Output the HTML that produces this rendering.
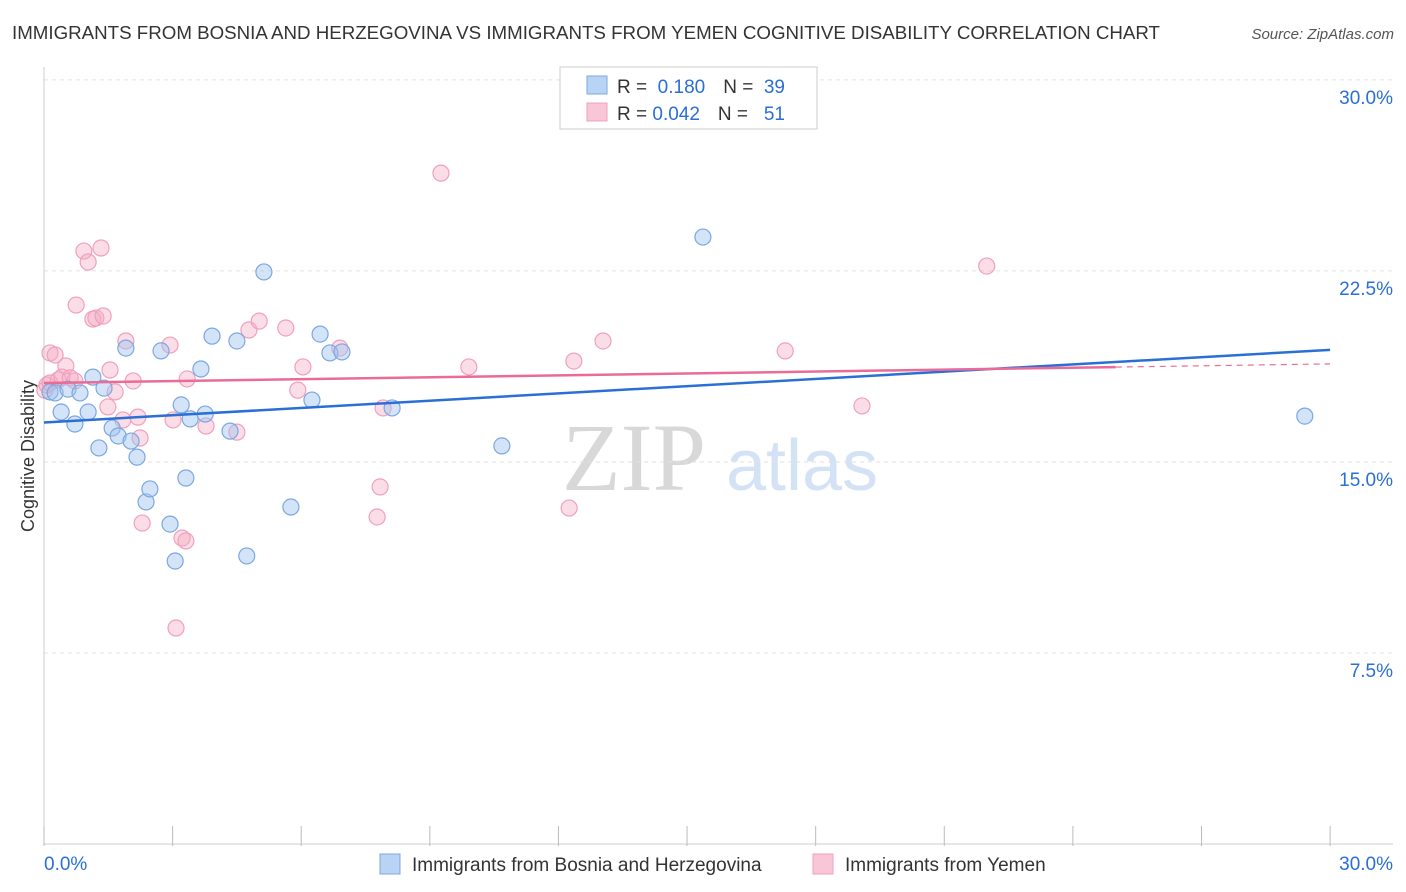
<!DOCTYPE html>
<html><head><meta charset="utf-8"><style>
body{margin:0;background:#fff;font-family:"Liberation Sans",sans-serif}
svg{display:block}
</style></head><body>
<svg id="c" width="1406" height="892" xmlns="http://www.w3.org/2000/svg">
<text x="12" y="39" font-size="18" fill="#333" textLength="1148" lengthAdjust="spacingAndGlyphs">IMMIGRANTS FROM BOSNIA AND HERZEGOVINA VS IMMIGRANTS FROM YEMEN COGNITIVE DISABILITY CORRELATION CHART</text>
<text x="1394" y="39" font-size="15" fill="#555" font-style="italic" text-anchor="end">Source: ZipAtlas.com</text>
<g>
<text x="634" y="490" font-size="96" fill="#d8d8d8" font-family="Liberation Serif,serif" text-anchor="middle">ZIP</text>
<text x="802" y="490" font-size="72" fill="#d4e2f5" text-anchor="middle">atlas</text>
</g>
<text transform="translate(34,456) rotate(-90)" font-size="18" fill="#333" text-anchor="middle">Cognitive Disability</text>
<g id="grid"></g><g id="marks"></g>
<g>
<rect x="560" y="67" width="257" height="62" fill="#fff" stroke="#ccc"/>
<rect x="587" y="76" width="20" height="18" fill="#b9d3f4" stroke="#7aa8e0"/>
<rect x="587" y="103" width="20" height="18" fill="#f9c6d7" stroke="#f0a0bc"/>
<text x="617" y="93" font-size="19" fill="#333">R = <tspan fill="#2a6fd6">&#160;0.180</tspan><tspan dx="18">N = </tspan><tspan fill="#2a6fd6">&#160;39</tspan></text>
<text x="617" y="120" font-size="19" fill="#333">R = <tspan fill="#2a6fd6">0.042</tspan><tspan dx="18">N = </tspan><tspan fill="#2a6fd6">&#160;&#160;51</tspan></text>
</g>
<g>
<rect x="380" y="854" width="20" height="20" fill="#b9d3f4" stroke="#7aa8e0"/>
<text x="412" y="871" font-size="19" fill="#333">Immigrants from Bosnia and Herzegovina</text>
<rect x="813" y="854" width="20" height="20" fill="#f9c6d7" stroke="#f0a0bc"/>
<text x="845" y="871" font-size="19" fill="#333">Immigrants from Yemen</text>
</g>
</svg>
<script>
const yTicks=[7.5,15,22.5,30];
const yTickLabels=["7.5%","15.0%","22.5%","30.0%"];
const xTickLabels=["0.0%","30.0%"];
const blueX=[0.14,0.26,0.40,0.56,0.72,0.84,1.03,1.14,1.28,1.40,1.59,1.73,1.91,2.03,2.17,2.38,2.47,2.73,2.94,3.06,3.20,3.31,3.41,3.66,3.76,3.92,4.34,4.50,4.73,5.13,5.76,6.25,6.44,6.67,6.95,8.12,10.68,15.37,29.41];
const blueY=[17.75,17.71,16.96,17.86,16.49,17.71,16.96,18.33,15.55,17.90,16.33,16.02,19.47,15.82,15.19,13.43,13.94,19.36,12.56,11.11,17.24,14.37,16.69,18.65,16.88,19.94,16.21,19.75,11.31,22.46,13.23,17.43,20.02,19.28,19.32,17.12,15.63,23.83,16.80];
const pinkX=[0.02,0.07,0.14,0.14,0.26,0.33,0.42,0.51,0.61,0.72,0.75,0.93,1.03,1.14,1.21,1.33,1.38,1.49,1.54,1.66,1.84,1.91,2.08,2.19,2.24,2.29,2.94,3.01,3.08,3.22,3.31,3.34,3.78,4.50,4.78,5.02,5.64,5.92,6.04,6.90,7.77,7.84,7.91,9.26,9.91,12.25,12.36,13.04,17.29,19.08,21.99];
const pinkY=[17.82,18.02,19.28,18.10,19.20,18.22,18.33,18.77,18.30,18.18,21.16,23.28,22.85,20.61,20.65,23.40,20.73,17.16,18.61,17.75,16.65,19.75,18.18,16.76,15.94,12.60,19.59,16.65,8.48,12.01,11.90,18.26,16.41,16.17,20.18,20.53,20.26,17.82,18.73,19.47,12.84,14.02,17.12,26.34,18.73,13.19,18.96,19.75,19.36,17.20,22.69];
const blueTrend=[16.55,19.4];
const pinkTrend=[18.1,18.85];
const pinkSolidEnd=25;
const NS="http://www.w3.org/2000/svg";
const X=v=>44+v*42.87, Y=v=>844-v*25.47;
const grid=document.getElementById('grid'), marks=document.getElementById('marks');
function mk(tag,attrs,parent){const e=document.createElementNS(NS,tag);for(const k in attrs)e.setAttribute(k,attrs[k]);parent.appendChild(e);return e;}
yTicks.forEach((t,i)=>{
 const l=mk('line',{x1:44,x2:1393,y1:Y(t),y2:Y(t),stroke:'#e2e2e2','stroke-dasharray':'4,4'},grid);
 
 
 const tx=mk('text',{x:1393,y:Y(t)+24,'font-size':19,fill:'#2a6fd6','text-anchor':'end'},grid);
 tx.textContent=yTickLabels[i];
 
 
});
let ax=mk('line',{x1:44,x2:44,y1:67,y2:844,stroke:'#ccc'},grid);


ax=mk('line',{x1:44,x2:1393,y1:844,y2:844,stroke:'#ccc'},grid);


for(let i=0;i<=10;i++){const tk=mk('line',{x1:X(i*3),x2:X(i*3),y1:826,y2:846,stroke:'#bbb'},grid);
 
 }
[[0,'start',44],[30,'end',1393]].forEach((p,i)=>{const t=mk('text',{x:p[2],y:870,'font-size':19,fill:'#2a6fd6','text-anchor':p[1]},grid);t.textContent=xTickLabels[i];
 
 });
pinkX.forEach((x,i)=>{const c=mk('circle',{cx:X(x),cy:Y(pinkY[i]),r:8,fill:'rgba(245,170,195,0.4)',stroke:'#f0a0bc','stroke-width':1.2},marks);
 
 });
blueX.forEach((x,i)=>{const c=mk('circle',{cx:X(x),cy:Y(blueY[i]),r:8,fill:'rgba(160,196,240,0.45)',stroke:'#7aa8e0','stroke-width':1.2},marks);
 
 });
const bl=mk('line',{x1:X(0),y1:Y(blueTrend[0]),x2:X(30),y2:Y(blueTrend[1]),stroke:'#2a6fd6','stroke-width':2.5},marks);


const pm=pinkTrend[0]+(pinkTrend[1]-pinkTrend[0])*pinkSolidEnd/30;
const pl=mk('line',{x1:X(0),y1:Y(pinkTrend[0]),x2:X(pinkSolidEnd),y2:Y(pm),stroke:'#e86c97','stroke-width':2.5},marks);


const pd=mk('line',{x1:X(pinkSolidEnd),y1:Y(pm),x2:X(30),y2:Y(pinkTrend[1]),stroke:'#e86c97','stroke-width':1.2,'stroke-dasharray':'6,5'},marks);


</script>
</body></html>
